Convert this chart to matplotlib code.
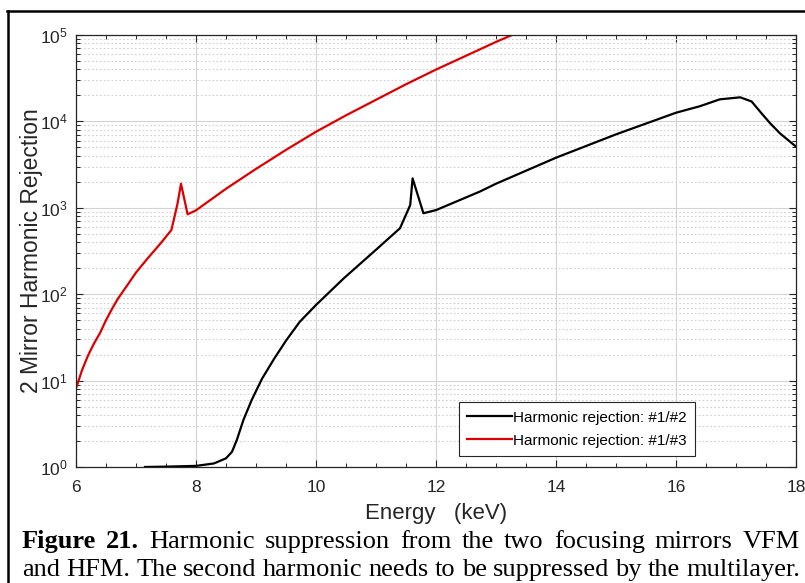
import matplotlib
matplotlib.use("Agg")
import matplotlib.pyplot as plt
from matplotlib.lines import Line2D
from matplotlib.ticker import LogLocator, MultipleLocator, NullFormatter

plt.rcParams['font.family'] = ['Liberation Sans', 'DejaVu Sans']
plt.rcParams['mathtext.fontset'] = 'custom'
plt.rcParams['mathtext.rm'] = 'Liberation Sans'
plt.rcParams['mathtext.it'] = 'Liberation Sans:italic'

# harmonic rejection #1/#2 (energy in keV, rejection ratio)
black_e = [7.15, 7.5, 8.0, 8.3, 8.5, 8.6, 8.68, 8.79, 8.93, 9.1, 9.3, 9.5, 9.73,
           10.0, 10.46, 11.0, 11.4, 11.57, 11.61, 11.79, 12.0, 12.73, 13.0, 14.0,
           15.0, 16.0, 16.4, 16.73, 17.07, 17.26, 17.43, 17.57, 17.73, 18.0]
black_r = [1.0, 1.01, 1.03, 1.1, 1.26, 1.5, 2.05, 3.5, 6.0, 10.5, 17.8, 29, 48,
           75, 152, 327, 580, 1075, 2190, 865, 940, 1540, 1900, 3800,
           7080, 12600, 15000, 18000, 19000, 17000, 12300, 9500, 7300, 5100]

# harmonic rejection #1/#3
red_e = [6.0, 6.1, 6.2, 6.3, 6.4, 6.5, 6.6, 6.7, 6.8, 6.9, 7.0, 7.2, 7.4, 7.59,
         7.69, 7.75, 7.86, 8.0, 8.5, 9.0, 9.5, 10.0, 10.5, 11.0, 11.5, 12.0,
         12.5, 13.0, 13.3]
red_r = [8.1, 13.2, 19.5, 26.9, 35.5, 50, 67.6, 89, 112, 141, 178, 263, 380, 553,
         1100, 1900, 840, 935, 1660, 2820, 4680, 7590, 11750, 17780, 26900, 39800,
         57500, 83200, 102300]

caption = [
    [("Figure", "bold"), ("21.", "bold"), ("Harmonic", "normal"), ("suppression", "normal"),
     ("from", "normal"), ("the", "normal"), ("two", "normal"), ("focusing", "normal"),
     ("mirrors", "normal"), ("VFM", "normal")],
    [("and", "normal"), ("HFM.", "normal"), ("The", "normal"), ("second", "normal"),
     ("harmonic", "normal"), ("needs", "normal"), ("to", "normal"), ("be", "normal"),
     ("suppressed", "normal"), ("by", "normal"), ("the", "normal"), ("multilayer.", "normal")],
]

W, H = 805, 583
fig = plt.figure(figsize=(W / 100, H / 100), dpi=100)
ax = fig.add_axes([76 / W, 116 / H, 720 / W, 432 / H])

ax.plot(black_e, black_r, color='black', lw=1.6, label='Harmonic rejection: #1/#2')
ax.plot(red_e, red_r, color='#dd0000', lw=1.6, label='Harmonic rejection: #1/#3')

ax.set_yscale('log')
ax.set_xlim(6, 18)
ax.set_ylim(1, 1e5)
ax.xaxis.set_major_locator(MultipleLocator(2))
ax.xaxis.set_minor_locator(MultipleLocator(0.5))
ax.yaxis.set_major_locator(LogLocator(base=10, numticks=10))
ax.yaxis.set_minor_locator(LogLocator(base=10, subs=range(2, 10), numticks=20))
ax.yaxis.set_minor_formatter(NullFormatter())

ax.grid(which='major', color='#d4d4d4', lw=0.8, ls='-')
ax.grid(which='minor', axis='y', color='#cfcfcf', lw=0.8, ls=(0, (1.5, 2)))
ax.set_axisbelow(True)
ax.tick_params(which='both', direction='in', top=True, right=True, color='#262626',
               labelsize=12.5, labelcolor='#262626')
ax.tick_params(which='major', length=5, width=0.8)
ax.tick_params(which='minor', length=3, width=0.7)
ax.tick_params(axis='x', which='major', pad=9)
ax.tick_params(axis='y', which='major', pad=6)
for sp in ax.spines.values():
    sp.set_color('#262626')
    sp.set_linewidth(0.9)

ax.set_xlabel('Energy   (keV)', fontsize=16, color='#262626', labelpad=6)
ax.set_ylabel('2 Mirror Harmonic Rejection', fontsize=16.5, color='#262626', labelpad=-2)

leg = ax.legend(loc='lower right', bbox_to_anchor=(0.86, 0.025), fontsize=11,
                handlelength=2.9, handletextpad=0.1, borderpad=0.55, labelspacing=0.6,
                borderaxespad=0, fancybox=False, framealpha=1, edgecolor='#262626')
leg.get_frame().set_linewidth(0.8)

# page frame around the figure
fig.add_artist(Line2D([7 / W, 1], [1 - 11 / H, 1 - 11 / H], transform=fig.transFigure,
                      color='black', lw=1.8))
fig.add_artist(Line2D([8 / W, 8 / W], [0, 1 - 11 / H], transform=fig.transFigure,
                      color='black', lw=1.8))

# justified caption lines
x0, x1 = 22, 800
baselines = [548, 576]
rows = []
for words, yb in zip(caption, baselines):
    texts = [fig.text(0, 1 - yb / H, w, fontsize=19, family='Liberation Serif',
                      weight=wt, va='baseline') for w, wt in words]
    rows.append(texts)
fig.canvas.draw()
r = fig.canvas.get_renderer()
for texts in rows:
    widths = [t.get_window_extent(r).width for t in texts]
    gap = (x1 - x0 - sum(widths)) / (len(texts) - 1)
    x = x0
    for t, w in zip(texts, widths):
        t.set_x(x / W)
        x += w + gap

fig.savefig('out.png', dpi=100)
